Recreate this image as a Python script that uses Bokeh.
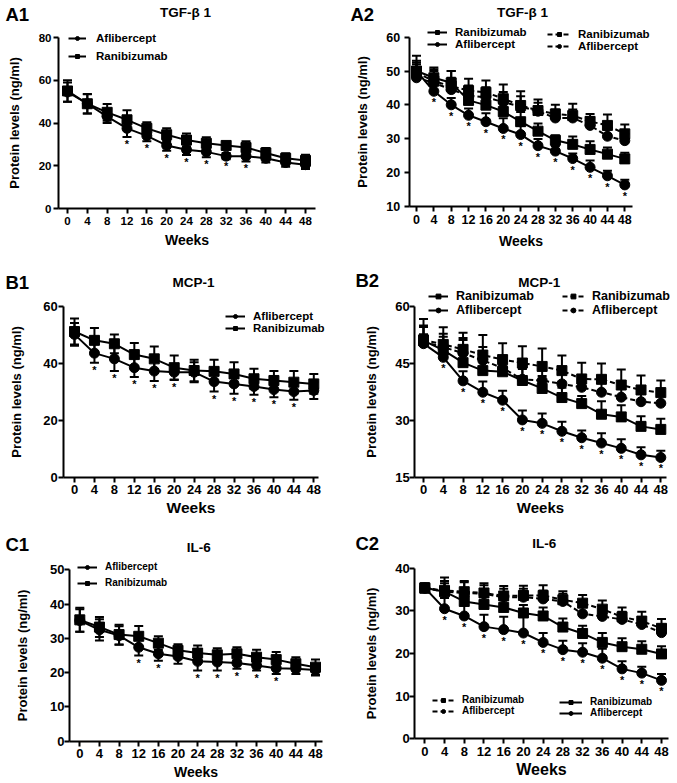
from bokeh.plotting import figure
from bokeh.models import (ColumnDataSource, Whisker, TeeHead, Legend, LegendItem, Label,
                          FixedTicker, Range1d)
from bokeh.layouts import gridplot
from bokeh.embed import file_html
from bokeh.resources import INLINE
from bokeh.core.properties import value

FONT = "Liberation Sans"

weeks = [0, 4, 8, 12, 16, 20, 24, 28, 32, 36, 40, 44, 48]
all_sig = [4, 8, 12, 16, 20, 24, 28, 32, 36, 40, 44, 48]

# ---- A1: TGF-beta 1 ----
afl_A1 = [54.5, 49, 43, 37.5, 34, 29.5, 27.5, 26.5, 24.5, 24.5, 23.5, 21.5, 20.5]
afl_A1_err = [4.5, 4.5, 3, 4, 2.5, 2.5, 2.5, 2.5, 1.5, 2.5, 2, 2, 2]
ran_A1 = [55, 49, 45, 41.5, 37.5, 34.5, 32, 30.5, 29.5, 28.5, 26, 23.5, 22.5]
ran_A1_err = [5, 4.6, 3.9, 4.5, 2.9, 3.1, 3.1, 2.8, 1.5, 3, 2.3, 2.3, 2.7]
sig_A1 = [12, 16, 20, 24, 28, 32, 36]
yticks_A1 = [0, 20, 40, 60, 80]

# ---- A2: TGF-beta 1 ----
ran_A2_solid = [50, 48, 46.5, 41.3, 39.9, 38, 35, 32.2, 29.5, 28.3, 26.8, 25.4, 24]
ran_A2_solid_err = [3, 3, 3.5, 2.8, 2.5, 2.5, 2.9, 2.3, 1.5, 2.3, 2.4, 2, 1.8]
afl_A2_solid = [50, 44, 40, 36.9, 35, 33, 31.2, 27.9, 26.3, 24.1, 21.5, 19, 16.3]
afl_A2_solid_err = [2.5, 2, 2, 2, 2.5, 3, 2.5, 2, 1.5, 1.5, 2, 1.5, 1.5]
ran_A2_dash = [49.5, 47, 45.5, 44.2, 43.7, 41.8, 39.8, 38.3, 37.3, 36.8, 35.1, 33.9, 31.4]
ran_A2_dash_err = [5, 3.5, 4.5, 3.5, 3.5, 4.2, 4.2, 3.3, 2.7, 3.5, 2.2, 3.2, 2.8]
afl_A2_dash = [48, 46.5, 44.5, 42.7, 42.2, 40.8, 39.5, 38.1, 36.1, 36.1, 33.9, 30.7, 29.4]
afl_A2_dash_err = [4, 3.5, 3.5, 3, 3, 3, 3, 2.5, 2.5, 2.5, 2.5, 2, 2]
yticks_A2 = [10, 20, 30, 40, 50, 60]

# ---- B1: MCP-1 ----
afl_B1 = [50.2, 43.6, 41.6, 38.5, 37.3, 36.9, 36.9, 33.6, 32.8, 31.9, 30.8, 30.1, 30.5]
afl_B1_err = [4, 3.4, 4.3, 3.3, 3.5, 2.6, 3.5, 3.5, 3.5, 2.9, 2.7, 2.9, 3]
ran_B1 = [51.2, 48.1, 46.9, 43.1, 41.6, 38.5, 37.5, 37.2, 36.3, 34.6, 34, 33.4, 32.8]
ran_B1_err = [4.6, 4.3, 3.3, 4.1, 4.3, 4.3, 3.8, 4.1, 4.1, 3.5, 3.3, 3.9, 3.5]
sig_B1 = [4, 8, 12, 16, 20, 28, 32, 36, 40, 44]
yticks_B1 = [0, 20, 40, 60]

# ---- B2: MCP-1 ----
ran_B2_solid = [51, 48.5, 45.2, 43.1, 42.8, 40.5, 38.4, 36, 34.4, 31.6, 30.9, 28.4, 27.6]
ran_B2_solid_err = [4, 3.5, 6.5, 4, 3, 3, 3.3, 2.6, 2, 3.4, 3.1, 2.7, 2.8]
afl_B2_solid = [50.2, 46.6, 40.4, 37.4, 35.3, 30.1, 29.2, 27.1, 25.4, 24, 22.6, 20.9, 20.2]
afl_B2_solid_err = [2.5, 2.5, 2.5, 2.8, 2.5, 2.5, 2.6, 2.5, 1.9, 2.6, 2.4, 2, 1.8]
ran_B2_dash = [51.2, 50, 48.7, 47.2, 46, 45.1, 44.2, 43.1, 40.9, 40.8, 39.3, 38, 37.3]
ran_B2_dash_err = [5.5, 4.5, 4.4, 5.3, 4.3, 4.4, 4.7, 4, 4.3, 4.2, 4.1, 3.8, 3.2]
afl_B2_dash = [50.6, 49.3, 47.7, 45.8, 43.8, 40.8, 40.5, 39.6, 38.7, 37.4, 36.1, 34.9, 34.5]
afl_B2_dash_err = [4, 3.5, 3.5, 3.5, 3, 3, 3, 3, 3, 3, 3, 3, 3]
yticks_B2 = [15, 30, 45, 60]

# ---- C1: IL-6 ----
afl_C1 = [35.2, 32.5, 30.8, 27.4, 25.5, 24.7, 23.3, 23.1, 22.8, 22.1, 21.3, 21.1, 20.8]
afl_C1_err = [3.3, 3.1, 2.7, 2.4, 2, 2.1, 2.7, 2.5, 1.7, 1.5, 1.7, 1.5, 1.6]
ran_C1 = [35.4, 33.3, 31.1, 30.6, 28.6, 26.5, 25.7, 25.2, 25.5, 24.5, 23.8, 22.6, 21.6]
ran_C1_err = [3.5, 2.9, 2.9, 3, 2, 1.8, 2.2, 1.9, 1.9, 2.2, 2.2, 1.9, 2.2]
sig_C1 = [12, 16, 24, 28, 32, 36, 40]
yticks_C1 = [0, 10, 20, 30, 40, 50]

# ---- C2: IL-6 ----
ran_C2_solid = [35.4, 34.5, 32.2, 31.5, 30.8, 29.5, 28.8, 26.2, 24.7, 22.6, 21.6, 21, 19.9]
ran_C2_solid_err = [1, 2, 2.2, 2, 2, 1.9, 2, 2, 1.8, 2.2, 2, 1.9, 1.8]
afl_C2_solid = [35.4, 30.5, 28.8, 26.3, 25.6, 24.8, 22.6, 20.9, 20.3, 18.9, 16.4, 15.4, 13.7]
afl_C2_solid_err = [1, 2.5, 3.6, 2.8, 3, 4.3, 2.2, 2.1, 2.1, 2.2, 1.8, 1.5, 1.5]
ran_C2_dash = [35.3, 34.8, 34.5, 34.2, 33.5, 33.6, 33.6, 32.6, 31.8, 30.4, 28.6, 27.6, 25.9]
ran_C2_dash_err = [1, 3, 2.5, 2.3, 2.3, 2.3, 2.4, 2, 1.9, 2, 2.2, 2.2, 2.2]
afl_C2_dash = [35.3, 34.5, 34.2, 34, 33.2, 33.2, 32.8, 32.2, 29.3, 28.7, 28, 26.8, 24.9]
afl_C2_dash_err = [1, 2.5, 2.5, 2, 2, 2, 2, 1.8, 1.8, 1.8, 1.8, 1.6, 1.6]
yticks_C2 = [0, 10, 20, 30, 40]


def make_panel(box, anchors, yticks, series, two_sided, sig_key, sig_weeks,
               tick_fs, weeks_fs, xs, ys, title, title_pos, tag, tag_pos, legends):
    ox, oy, W, H = box
    ax0, ax48, yax_px, xend_px, (ytop, py_top), (ybot, py_bot) = anchors
    s = (ax48 - ax0) / 48.0
    x0 = -(ax0 - ox) / s
    x1 = x0 + W / s
    sy_ = (py_bot - py_top) / float(ytop - ybot)
    y1 = ytop + (py_top - oy) / sy_
    y0 = y1 - H / sy_
    yaxis_x = (yax_px - ax0) / s
    xaxis_end = (xend_px - ax0) / s

    p = figure(width=W, height=H, x_range=Range1d(x0, x1), y_range=Range1d(y0, y1),
               output_backend="svg", toolbar_location=None, min_border=0)
    p.min_border_left = 0
    p.min_border_right = 0
    p.min_border_top = 0
    p.min_border_bottom = 0
    p.outline_line_color = None
    p.grid.visible = False
    p.background_fill_color = "white"
    p.border_fill_color = "white"
    for ax in (p.xaxis[0], p.yaxis[0]):
        ax.axis_line_width = 2
        ax.axis_line_color = "black"
        ax.major_tick_line_width = 2
        ax.major_tick_line_color = "black"
        ax.major_tick_out = 5
        ax.major_tick_in = 0
        ax.minor_tick_line_color = None
        ax.major_label_text_font = FONT
        ax.major_label_text_font_style = "bold"
        ax.major_label_text_font_size = f"{tick_fs}px"
        ax.major_label_text_color = "black"
        ax.axis_label_text_font = FONT
        ax.axis_label_text_font_style = "bold"
        ax.axis_label_text_color = "black"
    p.xaxis.ticker = FixedTicker(ticks=weeks)
    p.yaxis.ticker = FixedTicker(ticks=yticks)
    p.xaxis.fixed_location = ybot
    p.xaxis.bounds = (yaxis_x, xaxis_end)
    p.yaxis.fixed_location = yaxis_x
    p.yaxis.bounds = (ybot, ytop)
    p.xaxis.axis_label = "Weeks"
    p.xaxis.axis_label_text_font_size = f"{weeks_fs}px"
    p.yaxis.axis_label = "Protein levels (ng/ml)"
    p.yaxis.axis_label_text_font_size = "13px"
    p.xaxis.major_label_standoff = int(xs[0])
    p.xaxis.axis_label_standoff = int(xs[1])
    p.yaxis.major_label_standoff = int(ys[0])
    p.yaxis.axis_label_standoff = int(ys[1])

    rends = {}
    data = {}
    for key, vals, errs, marker, dashed in series:
        up = [v + e for v, e in zip(vals, errs)]
        lo = [v - e for v, e in zip(vals, errs)] if two_sided else list(vals)
        src = ColumnDataSource(dict(x=weeks, y=vals, up=up, lo=lo))
        wh = Whisker(base="x", upper="up", lower="lo", source=src, line_width=2,
                     line_color="black",
                     upper_head=TeeHead(size=9, line_width=2, line_color="black"),
                     lower_head=TeeHead(size=9, line_width=2, line_color="black") if two_sided else None)
        p.add_layout(wh)
        ln = p.line("x", "y", source=src, line_width=2, line_color="black",
                    line_dash="5 3" if dashed else "solid")
        sc = p.scatter("x", "y", source=src, marker=marker, size=10,
                       fill_color="black", line_color="black")
        rends[key] = (ln, sc)
        data[key] = (vals, lo)

    vals, lo = data[sig_key]
    idx = [weeks.index(wk) for wk in sig_weeks]
    if two_sided:
        sy = [lo[i] for i in idx]
        yoff = 1
    else:
        sy = [vals[i] for i in idx]
        yoff = 5
    p.text(x=sig_weeks, y=sy, text=["*"] * len(sig_weeks), text_align="center",
           text_baseline="top", y_offset=yoff, text_font=value(FONT),
           text_font_size="11px", text_font_style="bold", text_color="black")

    p.add_layout(Label(x=title_pos[0] - ox, y=oy + H - title_pos[1], x_units="screen",
                       y_units="screen", text=title, text_align="center",
                       text_baseline="middle", text_font=FONT, text_font_style="bold",
                       text_font_size="13.5px", text_color="black"))
    p.add_layout(Label(x=tag_pos[0] - ox, y=oy + H - tag_pos[1], x_units="screen",
                       y_units="screen", text=tag, text_align="left",
                       text_baseline="middle", text_font=FONT, text_font_style="bold",
                       text_font_size="18.5px", text_color="black"))

    for items, (lx, lbottom), gw, ih, sp, fs, stand in legends:
        lg = Legend(items=[LegendItem(label=lab, renderers=list(rends[k])) for k, lab in items],
                    location=(int(round(lx - ox)), int(round(oy + H - lbottom))),
                    glyph_width=gw, glyph_height=ih, label_height=ih,
                    spacing=sp, padding=0, margin=0, label_standoff=stand,
                    background_fill_alpha=0, border_line_alpha=0,
                    label_text_font=FONT, label_text_font_style="bold",
                    label_text_font_size=f"{fs}px", label_text_color="black")
        p.add_layout(lg)
    return p


pA1 = make_panel((0, 0, 338, 260), (67, 305, 58, 315, (80, 37), (0, 208)), yticks_A1,
                 [("afl", afl_A1, afl_A1_err, "circle", False),
                  ("ran", ran_A1, ran_A1_err, "square", False)],
                 True, "afl", sig_A1, 11.5, 14, (3, 4), (2, 14),
                 "TGF-β 1", (185, 12), "A1", (5, 14),
                 [([("afl", "Aflibercept"), ("ran", "Ranibizumab")], (68, 61.5), 18, 10, 6, 11.5, 10)])

pA2 = make_panel((338, 0, 338, 260), (416, 624.3, 408.7, 632, (60, 36.7), (10, 205.7)), yticks_A2,
                 [("ranD", ran_A2_dash, ran_A2_dash_err, "square", True),
                  ("aflD", afl_A2_dash, afl_A2_dash_err, "circle", True),
                  ("ranS", ran_A2_solid, ran_A2_solid_err, "square", False),
                  ("aflS", afl_A2_solid, afl_A2_solid_err, "circle", False)],
                 False, "aflS", all_sig, 12.5, 14, (4, 5), (4, 14),
                 "TGF-β 1", (522, 12), "A2", (350, 14),
                 [([("ranS", "Ranibizumab"), ("aflS", "Aflibercept")], (427, 49.8), 20, 10, -3, 11.5, 8),
                  ([("ranD", "Ranibizumab"), ("aflD", "Aflibercept")], (547, 51.8), 24, 10, -2, 11.5, 7)])

pB1 = make_panel((0, 260, 338, 258), (74, 313.3, 63.3, 318, (60, 306), (0, 476.7)), yticks_B1,
                 [("afl", afl_B1, afl_B1_err, "circle", False),
                  ("ran", ran_B1, ran_B1_err, "square", False)],
                 True, "afl", sig_B1, 13, 15.5, (3, 1), (1, 16),
                 "MCP-1", (193, 281.7), "B1", (5, 282),
                 [([("afl", "Aflibercept"), ("ran", "Ranibizumab")], (225, 334), 20, 10, -2, 11.5, 8)])

pB2 = make_panel((338, 260, 338, 258), (423, 660.3, 414.3, 666, (60, 306), (15, 476.7)), yticks_B2,
                 [("ranD", ran_B2_dash, ran_B2_dash_err, "square", True),
                  ("aflD", afl_B2_dash, afl_B2_dash_err, "circle", True),
                  ("ranS", ran_B2_solid, ran_B2_solid_err, "square", False),
                  ("aflS", afl_B2_solid, afl_B2_solid_err, "circle", False)],
                 False, "aflS", all_sig, 13, 15, (3, 1), (0, 13),
                 "MCP-1", (538.7, 281.7), "B2", (355, 280),
                 [([("ranS", "Ranibizumab"), ("aflS", "Aflibercept")], (428, 316.7), 20, 12, -2, 12.5, 8),
                  ([("ranD", "Ranibizumab"), ("aflD", "Aflibercept")], (562, 316.7), 22, 12, -2, 12.5, 8)])

pC1 = make_panel((0, 518, 338, 264), (79.3, 315, 69, 322, (50, 569.3), (0, 740.7)), yticks_C1,
                 [("afl", afl_C1, afl_C1_err, "circle", False),
                  ("ran", ran_C1, ran_C1_err, "square", False)],
                 True, "afl", sig_C1, 13, 14, (3, 2), (0, 17),
                 "IL-6", (198.3, 546.7), "C1", (5, 544.3),
                 [([("afl", "Aflibercept"), ("ran", "Ranibizumab")], (77, 588.3), 20, 10, 5, 10, 8)])

pC2 = make_panel((338, 518, 338, 264), (424.3, 661, 414.3, 668, (40, 567.7), (0, 738.3)), yticks_C2,
                 [("ranD", ran_C2_dash, ran_C2_dash_err, "square", True),
                  ("aflD", afl_C2_dash, afl_C2_dash_err, "circle", True),
                  ("ranS", ran_C2_solid, ran_C2_solid_err, "square", False),
                  ("aflS", afl_C2_solid, afl_C2_solid_err, "circle", False)],
                 False, "aflS", all_sig, 13, 16, (3, 2), (0, 13),
                 "IL-6", (543.7, 542.7), "C2", (355, 543),
                 [([("ranD", "Ranibizumab"), ("aflD", "Aflibercept")], (432, 716), 22, 10, -2, 10, 8),
                  ([("ranS", "Ranibizumab"), ("aflS", "Aflibercept")], (559, 718), 23, 10, -1, 10, 8)])

grid = gridplot([[pA1, pA2], [pB1, pB2], [pC1, pC2]], toolbar_location=None)

open("out.html", "w").write(file_html(grid, INLINE))
